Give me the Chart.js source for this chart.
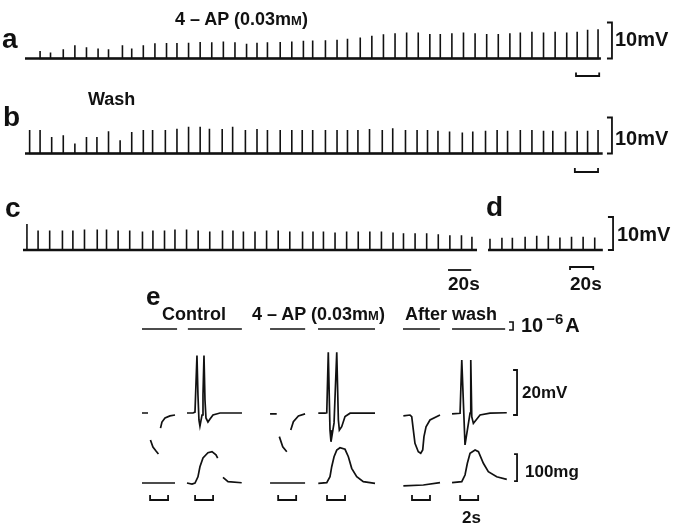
<!DOCTYPE html>
<html>
<head>
<meta charset="utf-8">
<script src="https://cdn.jsdelivr.net/npm/chart.js@4.4.1/dist/chart.umd.min.js"></script>
<style>
  body { margin: 0; background: #fff; }
  #fig { position: relative; width: 675px; height: 529px; overflow: hidden; background: #fff; }
  #fig canvas { position: absolute; }
  .t { position: absolute; font-family: "Liberation Sans", Arial, sans-serif; font-weight: bold;
       color: #111; line-height: 1; white-space: nowrap; }
  .sc { font-size: 0.72em; }
  sup { font-size: 0.75em; vertical-align: 0.55em; line-height: 0; margin: 0 2px 0 3px; }
</style>
</head>
<body>
<div id="fig">
  <canvas id="rowA"></canvas>
  <canvas id="rowB"></canvas>
  <canvas id="rowC"></canvas>
  <canvas id="rowD"></canvas>
  <canvas id="panelE"></canvas>

  <div class="t" style="left:175px;top:10px;font-size:18px">4 – AP (0.03m<span class="sc">M</span>)</div>
  <div class="t" style="left:2px;top:25px;font-size:28px">a</div>
  <div class="t" style="left:615px;top:29px;font-size:20px">10mV</div>

  <div class="t" style="left:88px;top:90px;font-size:18px">Wash</div>
  <div class="t" style="left:3px;top:103px;font-size:28px">b</div>
  <div class="t" style="left:615px;top:128px;font-size:20px">10mV</div>

  <div class="t" style="left:5px;top:194px;font-size:28px">c</div>
  <div class="t" style="left:486px;top:193px;font-size:28px">d</div>
  <div class="t" style="left:617px;top:224px;font-size:20px">10mV</div>
  <div class="t" style="left:448px;top:274px;font-size:19px">20s</div>
  <div class="t" style="left:570px;top:274px;font-size:19px">20s</div>

  <div class="t" style="left:146px;top:283px;font-size:26px">e</div>
  <div class="t" style="left:162px;top:305px;font-size:18px">Control</div>
  <div class="t" style="left:252px;top:305px;font-size:18px">4 – AP (0.03m<span class="sc">M</span>)</div>
  <div class="t" style="left:405px;top:305px;font-size:18px">After wash</div>
  <div class="t" style="left:521px;top:315px;font-size:20px">10<sup>−6</sup>A</div>
  <div class="t" style="left:522px;top:384px;font-size:17px">20mV</div>
  <div class="t" style="left:525px;top:463px;font-size:17px">100mg</div>
  <div class="t" style="left:462px;top:509px;font-size:17px">2s</div>
</div>

<script>
// --- rows a-d: spike times (s) and amplitudes (mV) ---
const spikeTimesA = [13,22,33,43,53,63,72,84,92,102,112,122,131,141,151,161,171,181,191,200,209,220,230,240,248,259,269,
  278,289,299,309,319,329,339,349,358,368,378,388,398,408,418,427,437,447,457,467,476,485,494];
const spikeAmpsA = [2.1,1.7,2.6,3.7,3.1,2.8,2.6,3.7,2.8,3.7,4.2,4.3,4.3,4.4,4.6,4.5,4.7,4.5,4.1,4.4,4.5,4.6,4.7,4.9,5.0,5.1,5.2,
  5.5,5.8,6.3,6.7,7.0,7.2,7.2,6.8,6.8,7.0,7.2,7.0,6.8,6.8,7.0,7.2,7.4,7.2,7.4,7.2,7.4,8.0,8.1];

const spikeTimesB = [4,13,23,33,43,53,62,72,82,92,102,110,121,131,141,151,159,170,179,190,200,209,220,230,239,248,259,269,
  278,287,297,308,317,328,338,347,356,366,377,386,397,407,416,427,437,447,455,466,476,485,494];
const spikeAmpsB = [6.5,6.5,4.6,5.1,2.8,4.6,4.6,6.2,3.7,6.0,6.5,6.5,6.5,6.9,7.4,7.4,6.9,6.8,7.4,6.5,6.8,6.5,6.5,6.5,6.5,6.5,6.5,6.5,
  6.5,6.5,6.8,6.5,7.0,6.5,6.5,6.5,6.3,6.1,5.8,6.1,6.3,6.5,6.3,6.5,6.5,6.3,6.3,6.1,6.3,6.3,6.5];

const spikeTimesC = [3.4,13,23,34,43,53,64,72,82,92,103,112,122,131,141,151,161,172,181,190,200,210,220,230,241,250,259,269,
  279,289,299,309,319,328,338,348,358,368,378,387];
const spikeAmpsC = [7.9,5.9,5.9,5.9,5.9,6.2,6.2,6.2,5.9,5.9,5.6,5.9,5.9,6.2,6.2,5.9,5.6,5.9,5.9,5.6,5.6,5.9,5.9,5.6,5.6,5.6,5.6,5.3,
  5.6,5.6,5.6,5.6,5.3,5.1,5.1,5.1,4.8,4.5,4.5,4.0];

const spikeTimesD = [1.7,12,21,32,42,52,62,72,82,92];
const spikeAmpsD = [3.4,3.7,3.7,4.0,4.3,4.3,3.8,4.0,4.0,3.8];

// --- panel e: [time within sweep (s), value]; null value = gap in the trace ---
const controlHypV = [[0,0],[0.67,0],[0.8,null],[0.94,-12],[1.22,-15.1],[1.56,-16.9],[1.83,-18.2],[1.95,null],
  [2.06,-6.7],[2.22,-4],[2.56,-2.2],[3.11,-1.3],[3.67,-0.9]];
const controlSpikeV = [[0,0],[0.67,0],[0.89,0.4],[1.11,25.5],[1.22,8],[1.33,-3.1],[1.44,-5.8],[1.67,-0.9],[1.78,8],
  [1.89,25.5],[2.0,5.8],[2.11,-2.2],[2.33,-4],[2.56,-2.7],[2.89,-0.9],[3.67,0],[6.11,0]];
const controlHypF = [[0,0],[3.67,0]];
const controlSpikeF = [[0,0],[0.56,-3.7],[0.89,0],[1.22,23],[1.44,60],[1.78,93],[2.33,112],[2.78,116],[3.22,104],[3.41,92],
  [3.7,null],[4.0,21],[4.56,5],[6.08,1]];

const fourApHypV = [[0,-0.4],[0.74,-0.4],[0.9,null],[1.03,-10.5],[1.41,-15],[1.86,-17.2],[2.1,null],[2.3,-7.6],
  [2.59,-3.9],[3.15,-1.3],[3.89,-0.4]];
const fourApSpikeV = [[0.03,-0.1],[0.78,-0.1],[0.97,0.1],[1.14,27],[1.33,-7.6],[1.44,-12.8],[1.78,-4.4],[2.08,27],
  [2.26,-3.1],[2.37,-7.6],[2.63,-6.1],[3.0,-1.6],[3.56,-0.1],[6.33,-0.1]];
const fourApHypF = [[0,0],[3.89,0]];
const fourApSpikeF = [[0.03,-1.1],[0.97,1.1],[1.33,23.3],[1.52,60.4],[1.78,97.4],[2.08,122],[2.44,130.7],[3.0,124.8],
  [3.37,97.4],[3.74,54.4],[4.3,23.3],[5.03,4.8],[6.33,-1.1]];

const washHypV = [[0.04,-1.3],[0.78,-0.9],[0.97,-1.6],[1.15,-7.6],[1.33,-13.5],[1.7,-17.2],[1.97,-17.9],[2.19,-16.4],
  [2.33,-10.5],[2.56,-6.1],[3.0,-3.1],[4.11,-0.9]];
const washSpikeV = [[0,-0.4],[0.89,-0.1],[1.08,23.5],[1.44,-14.2],[1.7,-7.6],[2.0,0],[2.08,23.5],[2.19,-1.6],[2.37,-4.6],
  [2.67,-3.1],[3.11,-0.9],[4.22,-0.1],[6.08,0.1]];
const washHypF = [[0.04,-11],[2.26,-7.4],[4.11,1.1]];
const washSpikeF = [[0,1.1],[1.08,4.8],[1.44,29.6],[1.7,73],[2.0,110],[2.56,122],[2.93,116],[3.48,73],[4.03,41.9],
  [4.96,23.3],[6.08,13.7]];

// current command lines (start, end in s) and stimulus markers (start in s, 2 s long)
const currentSpans = [[0,3.9],[0.1,6.1],[0,3.9],[0,6.33],[0,4.1],[0,5.9]];
const stimStarts = [0.9,0.9,0.9,1.0,1.0,0.9];
const stimLength = 2;

// layout: where each sweep of panel e begins on its shared time axis (s)
const sweepStarts = [1.33, 6.33, 15.56, 20.89, 30.33, 35.78];

const INK = '#111';

function line(data, width, axis) {
  return { data: data, borderColor: INK, borderWidth: width, pointRadius: 0, fill: false,
           clip: false, spanGaps: false, tension: 0, yAxisID: axis || 'y' };
}

function spikeTrace(times, amps) {
  const pts = [];
  times.forEach((t, i) => {
    pts.push({x: t, y: 0}, {x: t, y: amps[i]}, {x: t, y: 0});
  });
  return pts;
}

// "]" shaped calibration bar
function calBar(xv, xt, y0, y1) {
  return [{x: xt, y: y1}, {x: xv, y: y1}, {x: xv, y: y0}, {x: xt, y: y0}];
}

// bracket with end ticks (up or down depending on yTick)
function bracket(x0, x1, yBase, yTick) {
  return [{x: x0, y: yTick}, {x: x0, y: yBase}, {x: x1, y: yBase}, {x: x1, y: yTick}];
}

function sweep(points, offset) {
  return points.map(p => ({x: offset + p[0], y: p[1]}));
}

function makeChart(id, box, xr, axes, datasets) {
  const c = document.getElementById(id);
  c.width = box[2];
  c.height = box[3];
  c.style.left = box[0] + 'px';
  c.style.top = box[1] + 'px';
  const scales = { x: { type: 'linear', display: false, min: xr[0], max: xr[1] } };
  Object.keys(axes).forEach(k => {
    scales[k] = { type: 'linear', display: false, min: axes[k][0], max: axes[k][1] };
  });
  return new Chart(c, {
    type: 'line',
    data: { datasets: datasets },
    options: {
      responsive: false,
      animation: false,
      events: [],
      layout: { padding: 0 },
      plugins: { legend: { display: false }, tooltip: { enabled: false } },
      elements: { point: { radius: 0 } },
      scales: scales
    }
  });
}

// row a
makeChart('rowA', [0, 15, 675, 70], [-21.55, 560.34], { y: [-7.36, 12.08] }, [
  line([{x: 0, y: 0}, {x: 496.5, y: 0}], 2.6),
  line(spikeTrace(spikeTimesA, spikeAmpsA), 1.6),
  line(calBar(506, 501.7, 0, 10), 1.8),
  line(bracket(475, 495, -4.86, -3.9), 1.8)
]);

// row b
makeChart('rowB', [0, 105, 675, 75], [-21.55, 560.34], { y: [-7.36, 13.47] }, [
  line([{x: 0, y: 0}, {x: 498, y: 0}], 2.6),
  line(spikeTrace(spikeTimesB, spikeAmpsB), 1.6),
  line(calBar(506, 501.7, 0, 10), 1.8),
  line(bracket(474, 494, -5.14, -4.03), 1.8)
]);

// row c
makeChart('rowC', [0, 205, 480, 95], [-19.83, 393.97], { y: [-15.15, 13.64] }, [
  line([{x: 0, y: 0}, {x: 391.4, y: 0}], 2.6),
  line(spikeTrace(spikeTimesC, spikeAmpsC), 1.6),
  line([{x: 366.4, y: -6.06}, {x: 386.4, y: -6.06}], 1.8)
]);

// row d
makeChart('rowD', [480, 205, 195, 95], [-6.9, 161.2], { y: [-15.15, 13.64] }, [
  line([{x: 0, y: 0}, {x: 99, y: 0}], 2.6),
  line(spikeTrace(spikeTimesD, spikeAmpsD), 1.6),
  line(calBar(107.8, 103.4, 0, 10), 1.8),
  line(bracket(70.7, 90.7, -5.15, -6.06), 1.8)
]);

// panel e: membrane potential (mV), tension (mg) and current (uA) on one time axis
const membrane = [controlHypV, controlSpikeV, fourApHypV, fourApSpikeV, washHypV, washSpikeV];
const tension = [controlHypF, controlSpikeF, fourApHypF, fourApSpikeF, washHypF, washSpikeF];
const eSets = [];
sweepStarts.forEach((s, i) => {
  eSets.push(line(sweep(membrane[i], s), 1.7, 'y'));
  eSets.push(line(sweep(tension[i], s), 1.7, 'yF'));
  eSets.push(line(sweep([[currentSpans[i][0], 0], [currentSpans[i][1], 0]], s), 1.4, 'yI'));
  eSets.push(line(bracket(s + stimStarts[i], s + stimStarts[i] + stimLength, -63, -44), 1.8, 'yF'));
});
eSets.push(line(calBar(43.0, 42.56, -0.9, 19.1), 1.8, 'y'));
eSets.push(line(calBar(43.0, 42.67, 7, 107), 1.8, 'yF'));
eSets.push(line(calBar(42.56, 42.11, -0.125, 0.875), 1.6, 'yI'));

makeChart('panelE', [130, 300, 400, 212], [0, 44.44],
  { y: [-44, 50.22], yF: [-107.4, 677.8], yI: [-22.875, 3.625] }, eSets);
</script>
</body>
</html>
